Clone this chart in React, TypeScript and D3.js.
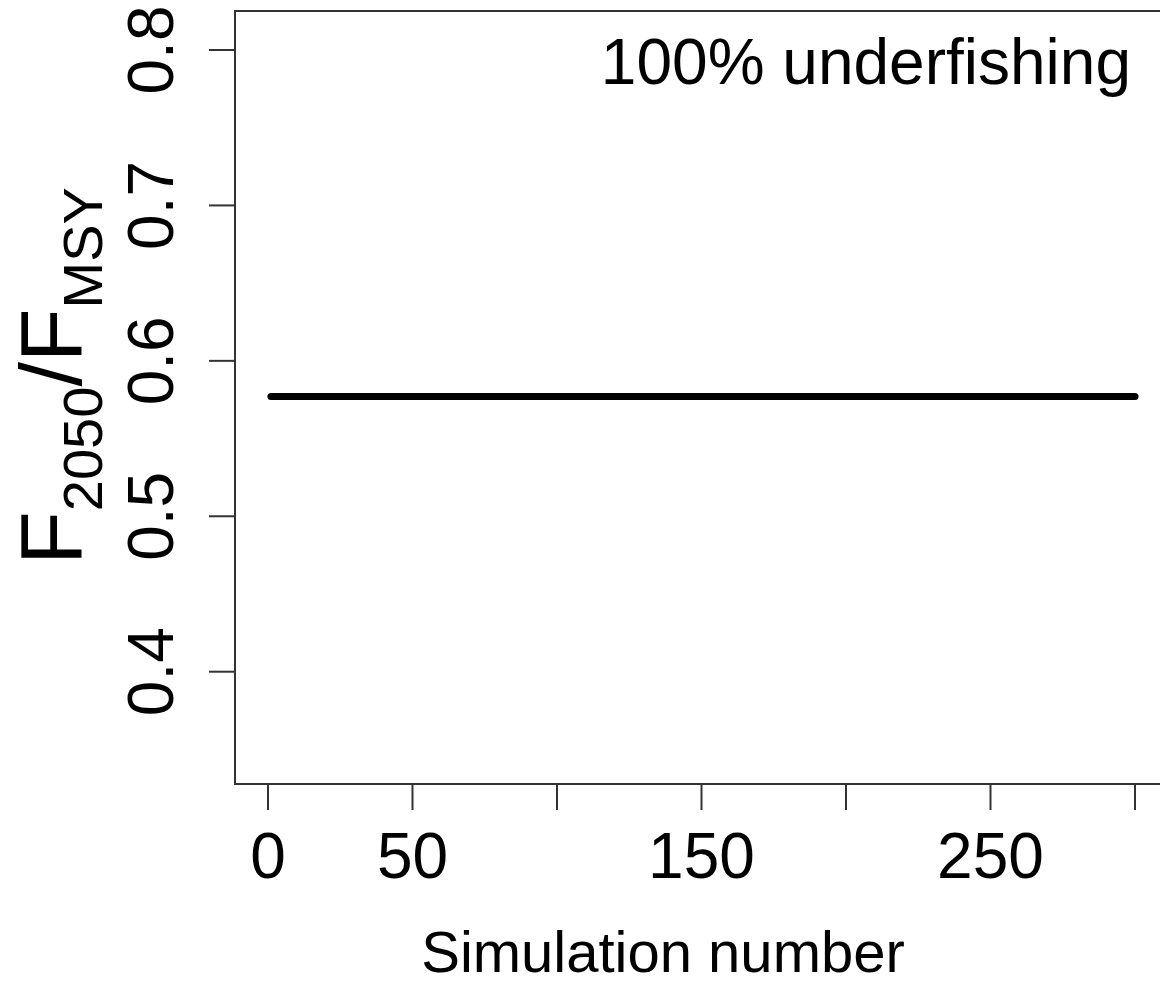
import React from 'react';
import * as d3 from 'd3';

// simulation runs 1..300, all give the same F2050/FMSY
const simulations: number[] = d3.range(1, 301);
const fRatio: number[] = simulations.map(() => 0.577);
const xTicks = [0, 50, 100, 150, 200, 250, 300];
const xTickLabels = ['0', '50', '', '150', '', '250', ''];
const yTicks = [0.4, 0.5, 0.6, 0.7, 0.8];
const legendText = '100% underfishing';

const W = 1160;
const H = 986;
const font = '"Liberation Sans", Arial, sans-serif';

export default function App() {
  const x = d3.scaleLinear().domain([0, 300]).range([268, 1135]);
  const y = d3.scaleLinear().domain([0.4, 0.8]).range([671.7, 50]);

  const box = { left: 235, top: 11, right: 1175, bottom: 784 };

  const line = d3.line<number>()
    .x((d, i) => x(simulations[i]))
    .y(d => y(d));

  const axisColor = '#333';

  return (
    <svg width={W} height={H} style={{ position: 'absolute', left: 0, top: 0, background: '#fff' }}
      fontFamily={font}>
      <rect x={0} y={0} width={W} height={H} fill="#fff" />
      {/* plot box */}
      <rect x={box.left} y={box.top} width={box.right - box.left} height={box.bottom - box.top}
        fill="none" stroke={axisColor} strokeWidth={2} />

      {/* the series */}
      <path d={line(fRatio) || ''} fill="none" stroke="#000" strokeWidth={7} strokeLinecap="round" />

      {/* x axis */}
      <line x1={x(0)} x2={x(300)} y1={box.bottom} y2={box.bottom} stroke={axisColor} strokeWidth={2} />
      {xTicks.map((t, i) => (
        <g key={t}>
          <line x1={x(t)} x2={x(t)} y1={box.bottom} y2={box.bottom + 26} stroke={axisColor} strokeWidth={2} />
          {xTickLabels[i] && (
            <text x={x(t)} y={878} textAnchor="middle" fontSize={64} fill="#000">{xTickLabels[i]}</text>
          )}
        </g>
      ))}

      {/* y axis */}
      {yTicks.map(t => (
        <g key={t}>
          <line x1={box.left - 26} x2={box.left} y1={y(t)} y2={y(t)} stroke={axisColor} strokeWidth={2} />
          <text transform={`translate(173,${y(t)}) rotate(-90)`} textAnchor="middle" fontSize={64} fill="#000">
            {d3.format('.1f')(t)}
          </text>
        </g>
      ))}

      {/* axis titles */}
      <text x={663} y={972} textAnchor="middle" fontSize={58} fill="#000">Simulation number</text>
      <text transform="translate(81,376) rotate(-90)" textAnchor="middle" fontSize={88} fill="#000">
        F<tspan fontSize={56} dy={21}>2050</tspan><tspan dy={-21}>/F</tspan><tspan fontSize={56} dy={21}>MSY</tspan>
      </text>

      {/* legend */}
      <text x={1131} y={84} textAnchor="end" fontSize={64} fill="#000">{legendText}</text>
    </svg>
  );
}
